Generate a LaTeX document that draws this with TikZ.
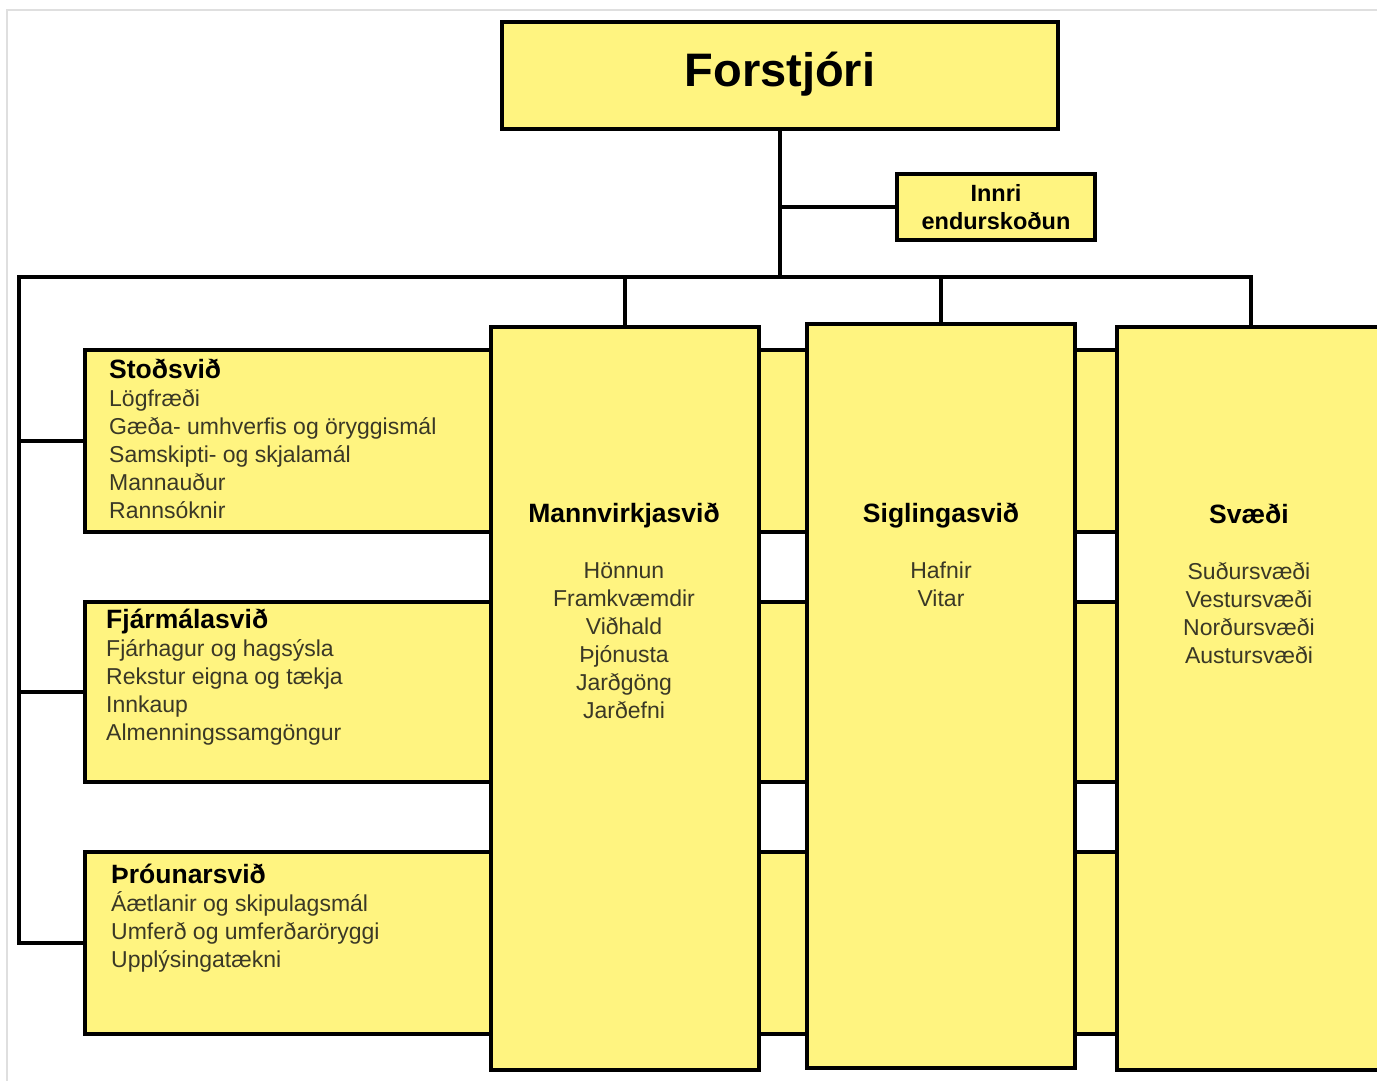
\documentclass[tikz,border=0pt]{standalone}
\usepackage{fontspec}
\setmainfont{Liberation Sans}
\usepackage{tikz}

\definecolor{vgyellow}{RGB}{255,244,128}
\definecolor{itemgray}{RGB}{58,56,38}

\tikzset{
  unit/.style={draw=black, line width=4pt, fill=vgyellow, inner sep=0pt},
  link/.style={line width=4.5pt},
  items/.style={font=\fontsize{23}{28}\selectfont, text=itemgray, inner sep=0pt},
}
\newcommand{\hd}[1]{\rule{0pt}{27pt}{\color{black}\fontsize{26.5}{28}\selectfont\bfseries #1}}

\begin{document}
\begin{tikzpicture}[x=1pt, y=-1pt]
        \useasboundingbox (0,0) rectangle (1377,1081);
        \clip (0,0) rectangle (1377,1081);
        \draw[gray!25, line width=1.5pt] (7,1081) -- (7,10) -- (1377,10);

        % top of the chart
        \node[unit, minimum width=556pt, minimum height=107pt, font=\fontsize{47}{52}\selectfont\bfseries, text height=31pt, text depth=10pt] (boss) at (780,75.5) {Forstjóri};
        \node[unit, minimum width=198pt, minimum height=66pt, align=center, font=\fontsize{23.5}{28}\selectfont\bfseries] (audit) at (996,207) {Innri\\endurskoðun};

        % horizontal bands
        \node[unit, anchor=north west, minimum width=1047pt, minimum height=182pt] (stod) at (83,348) {};
        \node[unit, anchor=north west, minimum width=1047pt, minimum height=180pt] (fjarm) at (83,600) {};
        \node[unit, anchor=north west, minimum width=1047pt, minimum height=182pt] (throun) at (83,850) {};

        % columns
        \node[unit, anchor=north west, minimum width=268pt, minimum height=743pt] (mann) at (489,325) {};
        \node[unit, anchor=north west, minimum width=268pt, minimum height=744pt] (sigl) at (805,322) {};
        \node[unit, anchor=north west, minimum width=268pt, minimum height=743pt] (svaedi) at (1115,325) {};

        \node[items, anchor=north west, align=left] (stodtxt) at (109,351) {\hd{Stoðsvið}\\Lögfræði\\Gæða- umhverfis og öryggismál\\Samskipti- og skjalamál\\Mannauður\\Rannsóknir};
        \node[items, anchor=north west, align=left] (fjarmtxt) at (106,601) {\hd{Fjármálasvið}\\Fjárhagur og hagsýsla\\Rekstur eigna og tækja\\Innkaup\\Almenningssamgöngur};
        \node[items, anchor=north west, align=left] (thrountxt) at (111,856) {\hd{Þróunarsvið}\\Áætlanir og skipulagsmál\\Umferð og umferðaröryggi\\Upplýsingatækni};

        \node[items, anchor=north, align=center] (manntxt) at (624,495) {\hd{Mannvirkjasvið}\\[28pt]Hönnun\\Framkvæmdir\\Viðhald\\Þjónusta\\Jarðgöng\\Jarðefni};
        \node[items, anchor=north, align=center] (sigltxt) at (941,495) {\hd{Siglingasvið}\\[28pt]Hafnir\\Vitar};
        \node[items, anchor=north, align=center] (svaeditxt) at (1249,496) {\hd{Svæði}\\[28pt]Suðursvæði\\Vestursvæði\\Norðursvæði\\Austursvæði};

        % lines
        \coordinate (busL) at (19,277);
        \draw[link] (boss.south) -- (boss.south |- busL);
        \draw[link] (boss.south |- audit.west) -- (audit.west);
        \draw[link] (throun.west) -| (busL) -| (svaedi.north);
        \draw[link] (mann.north |- busL) -- (mann.north);
        \draw[link] (sigl.north |- busL) -- (sigl.north);
        \draw[link] (stod.west -| busL) -- (stod.west);
        \draw[link] (fjarm.west -| busL) -- (fjarm.west);
      \end{tikzpicture}
\end{document}
